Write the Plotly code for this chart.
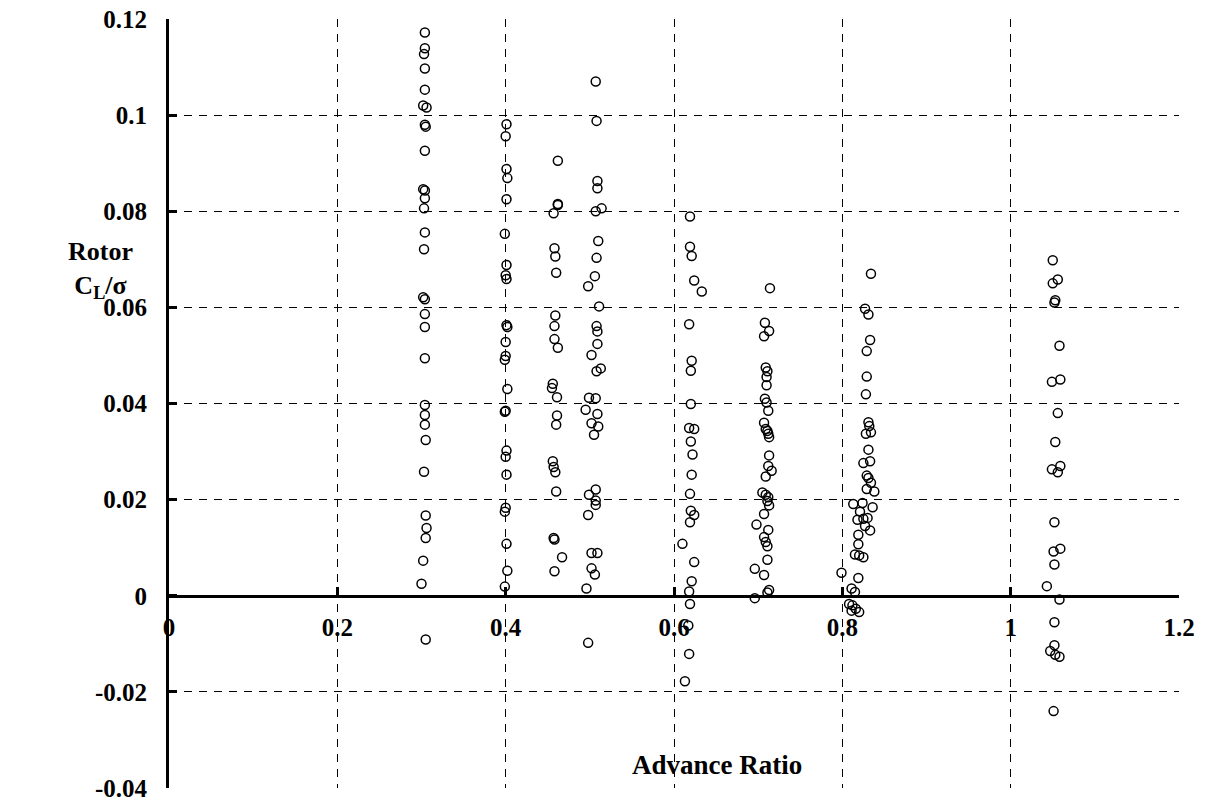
import plotly.graph_objects as go

# ---------------- data ----------------
mu_030 = [0.304, 0.304, 0.303, 0.304, 0.304, 0.302, 0.306, 0.304, 0.305, 0.304,
          0.302, 0.304, 0.304, 0.303, 0.304, 0.303, 0.302, 0.304, 0.304, 0.304,
          0.304, 0.304, 0.304, 0.304, 0.305, 0.303, 0.305, 0.306, 0.305, 0.302,
          0.300, 0.305]
cl_030 = [0.1172, 0.1139, 0.1127, 0.1097, 0.1053, 0.1020, 0.1016, 0.0980, 0.0976, 0.0926,
          0.0846, 0.0843, 0.0827, 0.0806, 0.0756, 0.0721, 0.0621, 0.0617, 0.0586, 0.0559,
          0.0494, 0.0397, 0.0376, 0.0356, 0.0324, 0.0258, 0.0167, 0.0141, 0.0120, 0.0073,
          0.0025, -0.0091]

mu_040 = [0.401, 0.400, 0.401, 0.402, 0.401, 0.399, 0.401, 0.400, 0.401, 0.401,
          0.402, 0.400, 0.400, 0.399, 0.402, 0.400, 0.399, 0.401, 0.400, 0.401,
          0.400, 0.399, 0.401, 0.402, 0.399]
cl_040 = [0.0981, 0.0956, 0.0888, 0.0869, 0.0825, 0.0753, 0.0688, 0.0667, 0.0659, 0.0563,
          0.0559, 0.0528, 0.0499, 0.0491, 0.0430, 0.0385, 0.0383, 0.0302, 0.0289, 0.0252,
          0.0183, 0.0175, 0.0108, 0.0052, 0.0019]

mu_046 = [0.462, 0.462, 0.462, 0.457, 0.458, 0.459, 0.460, 0.459, 0.458, 0.458,
          0.462, 0.456, 0.455, 0.461, 0.461, 0.460, 0.456, 0.457, 0.459, 0.460,
          0.457, 0.458, 0.467, 0.458]
cl_046 = [0.0905, 0.0815, 0.0813, 0.0796, 0.0723, 0.0706, 0.0672, 0.0583, 0.0561, 0.0534,
          0.0516, 0.0441, 0.0432, 0.0413, 0.0375, 0.0356, 0.0280, 0.0268, 0.0257, 0.0217,
          0.0120, 0.0117, 0.0080, 0.0051]

mu_050 = [0.507, 0.508, 0.509, 0.509, 0.514, 0.507, 0.510, 0.508, 0.506, 0.498,
          0.511, 0.508, 0.509, 0.509, 0.502, 0.513, 0.508, 0.499, 0.507, 0.495,
          0.509, 0.502, 0.510, 0.505, 0.507, 0.499, 0.507, 0.507, 0.498, 0.502,
          0.509, 0.502, 0.506, 0.496, 0.498]
cl_050 = [0.1070, 0.0988, 0.0863, 0.0848, 0.0806, 0.0800, 0.0738, 0.0703, 0.0665, 0.0644,
          0.0602, 0.0561, 0.0550, 0.0524, 0.0501, 0.0473, 0.0467, 0.0412, 0.0411, 0.0387,
          0.0378, 0.0359, 0.0352, 0.0335, 0.0221, 0.0210, 0.0198, 0.0189, 0.0168, 0.0089,
          0.0089, 0.0057, 0.0044, 0.0015, -0.0098]

mu_062 = [0.619, 0.619, 0.621, 0.624, 0.633, 0.618, 0.621, 0.620, 0.620, 0.618,
          0.624, 0.620, 0.622, 0.621, 0.619, 0.620, 0.624, 0.619, 0.610, 0.624,
          0.621, 0.618, 0.619, 0.617, 0.618, 0.613]
cl_062 = [0.0789, 0.0726, 0.0707, 0.0656, 0.0633, 0.0565, 0.0489, 0.0468, 0.0399, 0.0349,
          0.0347, 0.0321, 0.0294, 0.0252, 0.0212, 0.0177, 0.0168, 0.0153, 0.0108, 0.0070,
          0.0030, 0.0009, -0.0017, -0.0062, -0.0121, -0.0178]

mu_071 = [0.714, 0.708, 0.713, 0.707, 0.709, 0.711, 0.710, 0.710, 0.708, 0.710,
          0.712, 0.707, 0.709, 0.711, 0.712, 0.713, 0.713, 0.712, 0.716, 0.709,
          0.705, 0.709, 0.712, 0.711, 0.713, 0.707, 0.698, 0.712, 0.707, 0.709,
          0.711, 0.711, 0.696, 0.707, 0.713, 0.711, 0.696]
cl_071 = [0.0640, 0.0568, 0.0551, 0.0540, 0.0475, 0.0467, 0.0455, 0.0438, 0.0410, 0.0402,
          0.0385, 0.0360, 0.0347, 0.0343, 0.0337, 0.0330, 0.0292, 0.0270, 0.0260, 0.0248,
          0.0215, 0.0210, 0.0205, 0.0197, 0.0188, 0.0170, 0.0148, 0.0137, 0.0122, 0.0112,
          0.0103, 0.0075, 0.0056, 0.0043, 0.0012, 0.0007, -0.0005]

mu_082 = [0.834, 0.827, 0.831, 0.833, 0.829, 0.829, 0.828, 0.831, 0.832, 0.828,
          0.834, 0.831, 0.833, 0.825, 0.829, 0.831, 0.834, 0.829, 0.838, 0.813,
          0.824, 0.836, 0.821, 0.830, 0.825, 0.818, 0.827, 0.833, 0.819, 0.819,
          0.815, 0.820, 0.825, 0.799, 0.819, 0.811, 0.815, 0.808, 0.812, 0.816,
          0.811, 0.820]
cl_082 = [0.0670, 0.0597, 0.0585, 0.0532, 0.0509, 0.0456, 0.0419, 0.0361, 0.0353, 0.0337,
          0.0340, 0.0304, 0.0280, 0.0276, 0.0250, 0.0245, 0.0235, 0.0222, 0.0217, 0.0191,
          0.0193, 0.0184, 0.0175, 0.0162, 0.0160, 0.0158, 0.0145, 0.0136, 0.0127, 0.0107,
          0.0086, 0.0084, 0.0080, 0.0048, 0.0037, 0.0015, 0.0008, -0.0017, -0.0020, -0.0027,
          -0.0031, -0.0034]

mu_105 = [1.050, 1.056, 1.050, 1.053, 1.052, 1.058, 1.059, 1.049, 1.056, 1.053,
          1.059, 1.049, 1.056, 1.052, 1.059, 1.051, 1.052, 1.043, 1.058, 1.052,
          1.052, 1.047, 1.053, 1.058, 1.051]
cl_105 = [0.0698, 0.0658, 0.0650, 0.0615, 0.0610, 0.0520, 0.0450, 0.0445, 0.0380, 0.0320,
          0.0270, 0.0263, 0.0257, 0.0153, 0.0098, 0.0092, 0.0065, 0.0020, -0.0008, -0.0055,
          -0.0103, -0.0115, -0.0123, -0.0127, -0.0240]

x_tickvals = [0, 0.2, 0.4, 0.6, 0.8, 1.0, 1.2]
x_ticktext = ["0", "0.2", "0.4", "0.6", "0.8", "1", "1.2"]
y_tickvals = [0.12, 0.10, 0.08, 0.06, 0.04, 0.02, 0.0, -0.02, -0.04]
y_ticktext = ["0.12", "0.1", "0.08", "0.06", "0.04", "0.02", "0", "-0.02", "-0.04"]

x_title = "Advance Ratio"
y_title = "<b>Rotor</b><br><b>C<sub>L</sub>/σ</b>"

# ---------------- figure ----------------
mu_all = mu_030 + mu_040 + mu_046 + mu_050 + mu_062 + mu_071 + mu_082 + mu_105
cl_all = cl_030 + cl_040 + cl_046 + cl_050 + cl_062 + cl_071 + cl_082 + cl_105

FONT = "Liberation Serif, Times New Roman, serif"

fig = go.Figure()
fig.add_trace(go.Scatter(
    x=mu_all, y=cl_all, mode="markers",
    marker=dict(symbol="circle-open", size=9, color="black",
                line=dict(color="black", width=1.5)),
    showlegend=False, cliponaxis=False,
))

# the page body adds an 8 px offset, so margins are reduced accordingly
fig.update_layout(
    width=1205, height=797,
    margin=dict(l=161, r=34, t=11, b=17, autoexpand=False),
    paper_bgcolor="white", plot_bgcolor="white",
    font=dict(family=FONT, color="black"),
    xaxis=dict(
        range=[0, 1.2], tickvals=x_tickvals, ticktext=x_ticktext,
        anchor="free", position=0.25, side="bottom",
        showline=True, linecolor="black", linewidth=3,
        ticks="inside", ticklen=8, tickwidth=3, tickcolor="black",
        tickfont=dict(family=FONT, size=25, color="black", weight="bold"),
        ticklabelstandoff=8, ticklabeloverflow="allow",
        showgrid=True, gridcolor="black", gridwidth=1, griddash="8px,7px",
        zeroline=False, automargin=False,
    ),
    yaxis=dict(
        range=[-0.04, 0.12], tickvals=y_tickvals, ticktext=y_ticktext,
        showline=True, linecolor="black", linewidth=3,
        ticks="inside", ticklen=8, tickwidth=3, tickcolor="black",
        tickfont=dict(family=FONT, size=25, color="black", weight="bold"),
        ticklabelstandoff=14, ticklabeloverflow="allow",
        showgrid=True, gridcolor="black", gridwidth=1, griddash="8px,7px",
        zeroline=False, automargin=False,
    ),
    annotations=[
        dict(text=f"<b>{x_title}</b>", xref="paper", yref="paper",
             x=0.5426, y=0.030, xanchor="center", yanchor="middle",
             showarrow=False, font=dict(family=FONT, size=27, color="black")),
        dict(text=y_title, xref="paper", yref="paper",
             x=-0.0683, y=0.674, xanchor="center", yanchor="middle",
             showarrow=False, font=dict(family=FONT, size=26, color="black")),
    ],
)

fig.write_html("out.html")
